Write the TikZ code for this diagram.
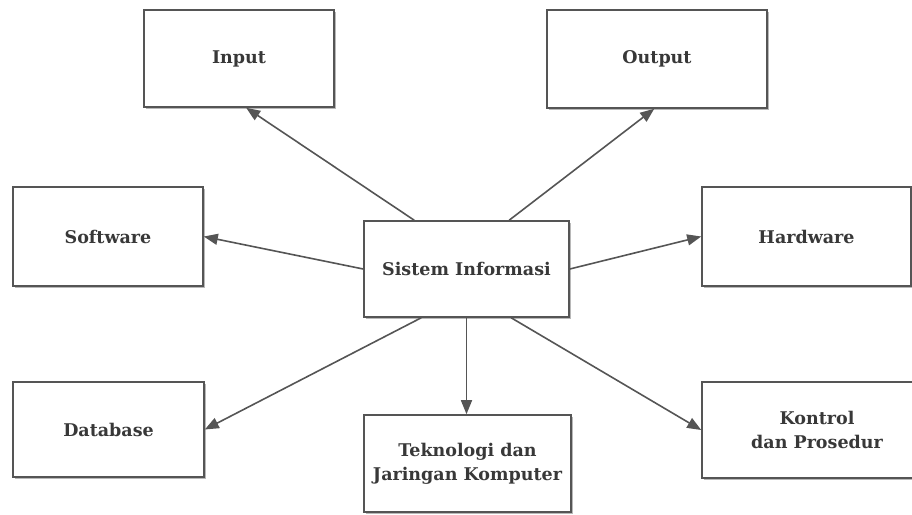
\documentclass[tikz,border=0pt]{standalone}
\usepackage{fontspec}
\setmainfont{DejaVu Serif}
\usetikzlibrary{arrows.meta,shadows,calc}
\definecolor{edge}{HTML}{555555}
\definecolor{ink}{HTML}{383838}
\tikzset{
  box/.style={draw=edge, line width=1.6pt, fill=white, rectangle,
    text=ink, font=\bfseries\fontsize{17.5}{24}\selectfont, align=center,
    drop shadow={shadow xshift=1.8pt, shadow yshift=-1.8pt, fill=black!35, opacity=0.8}},
  link/.style={draw=edge, line width=1.6pt, -{Triangle[length=14pt,width=11pt]}}
}
\begin{document}
\begin{tikzpicture}[x=1pt, y=-1pt]
  \useasboundingbox (0,0) rectangle (912,514);
  % outer boxes
  \node[box, minimum width=190pt, minimum height=97pt] (in) at (239,58.5) {Input};
  \node[box, minimum width=220pt, minimum height=98pt] (out) at (657,59) {Output};
  \node[box, minimum width=190pt, minimum height=99pt] (sw) at (108,236.5) {Software};
  \node[box, minimum width=209pt, minimum height=99pt] (hw) at (806.5,236.5) {Hardware};
  \node[box, minimum width=191pt, minimum height=95pt] (db) at (108.5,429.5) {Database};
  \node[box, minimum width=207pt, minimum height=97pt] (tk) at (467.5,463.5) {Teknologi dan\\Jaringan Komputer};
  \node[box, minimum width=230pt, minimum height=96pt] (kp) at (817,430) {Kontrol\\dan Prosedur};
  % central box
  \node[box, minimum width=205pt, minimum height=96pt] (si) at (466.5,269) {Sistem Informasi};
  % connectors from the centre outwards
  \draw[link] ([xshift=51pt]si.north west) -- ([xshift=103pt]in.south west);
  \draw[link] ([xshift=146pt]si.north west) -- ([xshift=108pt]out.south west);
  \draw[link] (si.west) -- (sw.east);
  \draw[link] (si.east) -- (hw.west);
  \draw[link] ([xshift=58pt]si.south west) -- (db.east);
  \draw[link] (si.south) -- (si.south |- tk.north);
  \draw[link] ([xshift=148pt]si.south west) -- (kp.west);
\end{tikzpicture}
\end{document}
